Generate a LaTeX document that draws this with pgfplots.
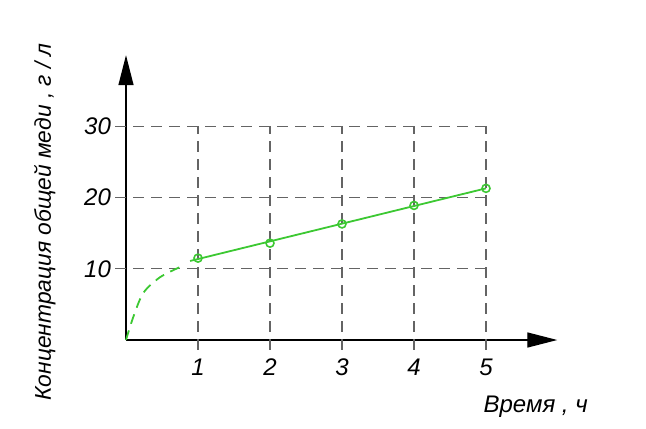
\documentclass[border=0pt]{standalone}
\usepackage{fontspec}
\setmainfont{Liberation Sans}
\usepackage{pgfplots}
\pgfplotsset{compat=1.18}
\usetikzlibrary{arrows.meta,calc}
\definecolor{grn}{RGB}{60,200,50}
\definecolor{grd}{RGB}{100,100,100}
\begin{document}
\begin{tikzpicture}
\begin{axis}[
  x=36pt, y=3.56pt,
  xmin=0, xmax=5.99, ymin=0, ymax=40,
  axis lines=left,
  axis line style={line width=0.7pt, -{Triangle[length=15pt,width=7.5pt]}},
  xtick={1,2,3,4,5}, ytick={10,20,30},
  major tick length=0pt,
  tick label style={font=\fontsize{12}{14}\selectfont\itshape},
  /pgf/number format/assume math mode=true,
  xticklabel style={yshift=-6pt},
  yticklabel style={xshift=-4pt},
  clip=false,
  label style={font=\fontsize{12}{14}\selectfont\itshape},
  xlabel={Время , ч},
  xlabel style={at={(rel axis cs:1.087,-0.253)}, anchor=base east},
  ylabel={Концентрация общей меди , г / л},
  ylabel style={at={(rel axis cs:-0.188,0.415)}, anchor=center, rotate=0,
    font=\fontsize{11.4}{14}\selectfont\itshape},
]
% grid
\pgfplotsinvokeforeach{1,2,3,4,5}{
  \draw[grd, line width=0.65pt, dash pattern=on 5.5pt off 3.5pt] (axis cs:#1,-1.4) -- (axis cs:#1,30);
}
\pgfplotsinvokeforeach{10,20,30}{
  \draw[grd, line width=0.65pt, dash pattern=on 5.5pt off 3.5pt] (axis cs:-0.15,#1) -- (axis cs:5,#1);
}
% initial curve (dashed)
\addplot[grn, line width=0.9pt, dash pattern=on 5pt off 3.5pt, smooth]
  coordinates {(0,0) (0.1,3.2) (0.24,6.6) (0.47,8.8) (0.74,10.2)};
% trend line
\addplot[grn, line width=0.9pt]
  coordinates {(0.89,11.1) (5,21.3)};
% measured points
\addplot[only marks, grn, mark=o, mark size=2pt, mark options={line width=0.8pt, fill=white}]
  coordinates {(1,11.5) (2,13.6) (3,16.3) (4,18.9) (5,21.3)};
\coordinate (O) at (axis cs:0,0);
\end{axis}
\useasboundingbox ($(O)+(-63pt,-44pt)$) rectangle ($(O)+(260pt,170pt)$);
\end{tikzpicture}
\end{document}
